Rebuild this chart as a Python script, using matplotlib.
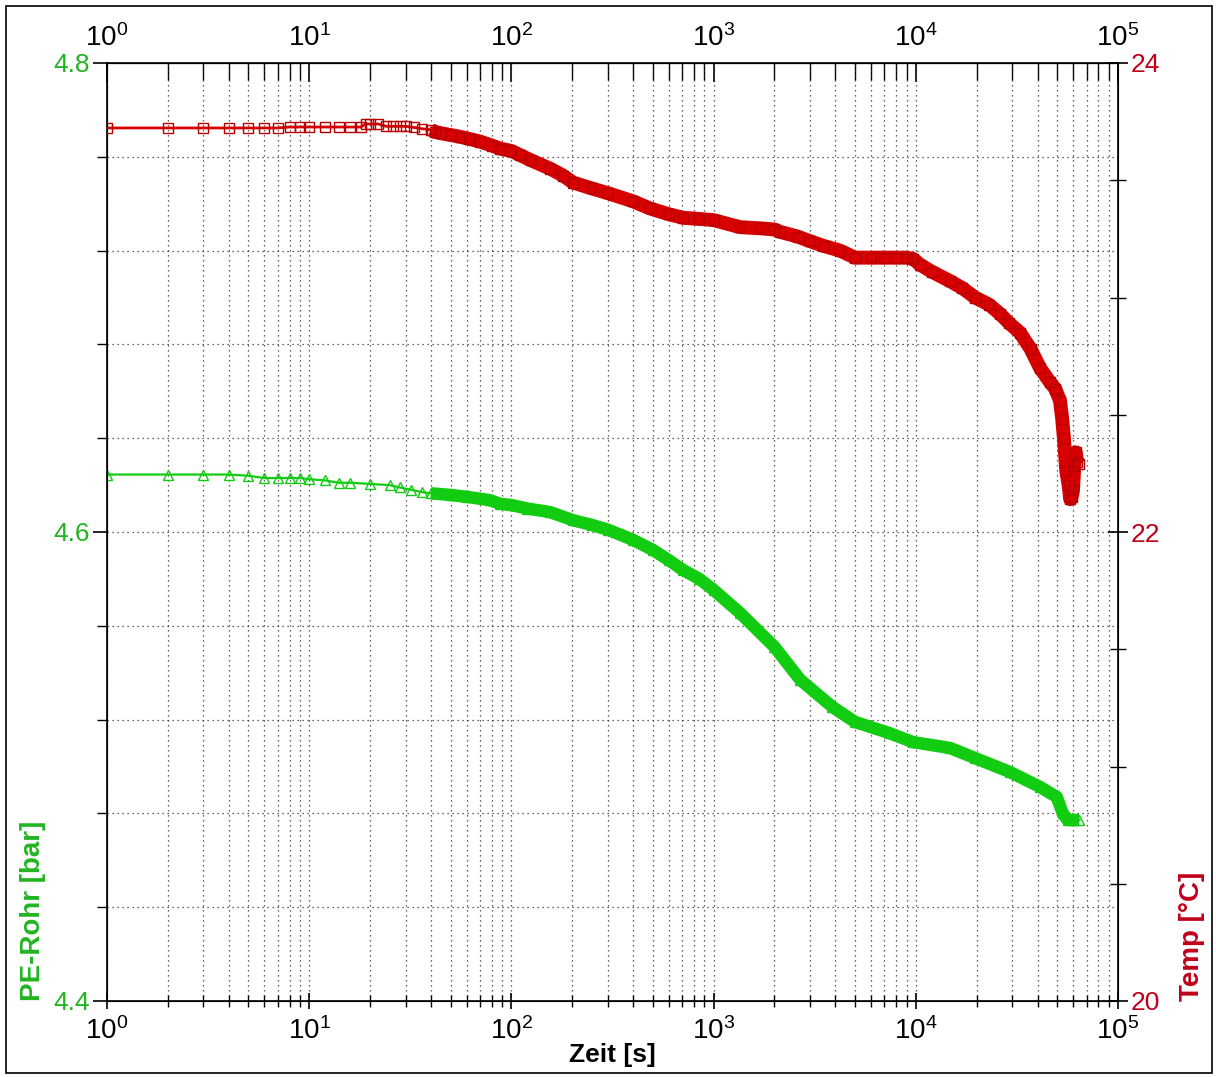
import numpy as np
import matplotlib
matplotlib.use("Agg")
import matplotlib.pyplot as plt
from matplotlib.ticker import FixedLocator, LogLocator, MultipleLocator, NullFormatter, LogFormatterMathtext
from matplotlib.patches import Rectangle

# Temperatur (rechte Achse)
temp_t = [1, 2, 3, 4, 5, 6, 7, 8, 9, 10, 12, 14, 16, 18, 19, 20, 22, 24, 26, 28,
          30, 33, 36, 40, 42, 45, 50, 56, 62, 70, 80, 88, 100, 110, 125, 155, 180,
          202, 250, 300, 400, 484, 600, 706, 850, 1000, 1350, 1700, 2000, 2130,
          2600, 3000, 3500, 4220, 5000, 6000, 7000, 8000, 9000, 9690, 10490, 12000,
          14760, 17000, 19630, 23000, 26100, 29000, 32750, 37000, 41100, 46000,
          49000, 51650, 53000, 54000, 55500, 57000, 58000, 59000, 59900, 60800,
          61800, 62800, 63800]
temp_val = [23.723, 23.723, 23.723, 23.723, 23.723, 23.723, 23.723, 23.727, 23.727,
            23.727, 23.727, 23.727, 23.727, 23.727, 23.74, 23.74, 23.74, 23.73, 23.73,
            23.73, 23.73, 23.725, 23.72, 23.715, 23.706, 23.70, 23.693, 23.685, 23.676,
            23.665, 23.648, 23.635, 23.625, 23.608, 23.585, 23.55, 23.52, 23.49, 23.465,
            23.445, 23.41, 23.38, 23.355, 23.34, 23.335, 23.33, 23.30, 23.295, 23.29,
            23.28, 23.26, 23.24, 23.22, 23.20, 23.17, 23.17, 23.17, 23.17, 23.17,
            23.165, 23.14, 23.11, 23.07, 23.04, 23.00, 22.97, 22.93, 22.89, 22.85,
            22.78, 22.70, 22.64, 22.61, 22.56, 22.48, 22.40, 22.26, 22.20, 22.14,
            22.15, 22.18, 22.28, 22.34, 22.30, 22.29]

# Druck PE-Rohr (linke Achse)
pe_t = [1, 2, 3, 4, 5, 6, 7, 8, 9, 10, 12, 14, 16, 20, 25, 28, 32, 36, 40, 50, 60,
        78, 88, 100, 120, 155, 202, 250, 300, 400, 502, 600, 705, 850, 1000, 1350,
        2000, 2680, 3870, 5000, 7370, 9690, 14760, 19630, 29100, 41100, 49800,
        53200, 56300, 60000, 64400]
pe_val = [4.6245, 4.6245, 4.6245, 4.6245, 4.624, 4.623, 4.623, 4.623, 4.623, 4.6225,
          4.622, 4.621, 4.621, 4.6205, 4.620, 4.619, 4.618, 4.617, 4.6165, 4.6158,
          4.615, 4.6136, 4.612, 4.6115, 4.610, 4.6085, 4.605, 4.603, 4.601, 4.5966,
          4.5923, 4.588, 4.5838, 4.580, 4.5753, 4.5655, 4.551, 4.537, 4.5254, 4.519,
          4.5143, 4.5104, 4.5079, 4.5036, 4.4977, 4.4913, 4.487, 4.4802, 4.4772,
          4.4772, 4.4772]

x_ticks = [1, 10, 100, 1000, 10000, 100000]

green = "#11cc11"
green_txt = "#22b422"
red = "#d80000"
red_txt = "#c0001a"

plt.rcParams["font.family"] = ["Liberation Sans", "DejaVu Sans"]
plt.rcParams["mathtext.fontset"] = "custom"
plt.rcParams["mathtext.rm"] = "Liberation Sans"
plt.rcParams["mathtext.it"] = "Liberation Sans:italic"
plt.rcParams["mathtext.bf"] = "Liberation Sans:bold"
plt.rcParams["mathtext.default"] = "regular"

fig = plt.figure(figsize=(12.16, 10.77), dpi=100)
ax = fig.add_axes([107 / 1216, 1 - 1001 / 1077, 1011 / 1216, 938 / 1077])
ax2 = ax.twinx()

ax.set_xscale("log")
ax.set_xlim(1, 1e5)
ax.set_ylim(4.4, 4.8)
ax2.set_ylim(20, 24)

ax.xaxis.set_major_locator(FixedLocator(x_ticks))
ax.xaxis.set_minor_locator(LogLocator(base=10, subs=np.arange(2, 10), numticks=20))
ax.xaxis.set_major_formatter(LogFormatterMathtext())
ax.xaxis.set_minor_formatter(NullFormatter())
ax.yaxis.set_major_locator(MultipleLocator(0.2))
ax.yaxis.set_minor_locator(MultipleLocator(0.04))
ax2.yaxis.set_major_locator(MultipleLocator(2))
ax2.yaxis.set_minor_locator(MultipleLocator(0.5))

ax.grid(True, which="both", axis="both", linestyle=(0, (1, 3)), color="#333333", linewidth=0.9)
ax.set_axisbelow(True)

# PE-Rohr
pe_t_arr = np.array(pe_t)
pe_arr = np.array(pe_val)
m = pe_t_arr >= 40
ax.plot(pe_t_arr[m], pe_arr[m], color=green, lw=9, solid_capstyle="butt", zorder=2)
ax.plot(pe_t, pe_val, color=green, lw=1.6, marker="^", markersize=6.5,
        markerfacecolor="none", markeredgecolor=green, zorder=3)

# Temperatur
temp_t_arr = np.array(temp_t)
temp_arr = np.array(temp_val)
m2 = temp_t_arr >= 40
ax2.plot(temp_t_arr[m2], temp_arr[m2], color=red, lw=10, solid_capstyle="butt", zorder=2)
ax2.plot(temp_t, temp_val, color=red, lw=2, marker="s", markersize=6.5,
         markerfacecolor="none", markeredgecolor="#b80000", zorder=3)

# Achsen-Beschriftung
ax.tick_params(axis="x", which="major", direction="inout", length=12, width=1.2, labelsize=20, pad=6)
ax.tick_params(axis="x", which="minor", direction="inout", length=8, width=1)
ax.tick_params(axis="y", which="major", direction="out", length=10, width=1.2,
               labelsize=19, labelcolor=green_txt, pad=2)
ax.tick_params(axis="y", which="minor", direction="out", length=7, width=1)
ax2.tick_params(axis="y", which="major", direction="inout", length=14, width=1.2,
                labelsize=19, labelcolor=red_txt, pad=2)
ax2.tick_params(axis="y", which="minor", direction="inout", length=12, width=1)

top = ax.secondary_xaxis("top")
top.xaxis.set_major_locator(FixedLocator(x_ticks))
top.xaxis.set_minor_locator(LogLocator(base=10, subs=np.arange(2, 10), numticks=20))
top.xaxis.set_major_formatter(LogFormatterMathtext())
top.xaxis.set_minor_formatter(NullFormatter())
top.tick_params(axis="x", which="major", direction="in", length=14, width=1.2, labelsize=20, pad=8)
top.tick_params(axis="x", which="minor", direction="in", length=12, width=1)

ax.set_xlabel("Zeit [s]", fontsize=19, fontweight="bold", labelpad=-2)
ax.set_ylabel("PE-Rohr [bar]", fontsize=20, fontweight="bold", color=green_txt,
              loc="bottom", labelpad=6)
ax2.set_ylabel("Temp [°C]", fontsize=20, fontweight="bold", color=red_txt,
               loc="bottom", labelpad=14)

for sp in ax.spines.values():
    sp.set_linewidth(1.2)

fig.patches.append(Rectangle((6 / 1216, 4 / 1077), 1206 / 1216, 1067 / 1077,
                             transform=fig.transFigure, fill=False,
                             edgecolor="black", linewidth=1.2))

fig.savefig("out.png", dpi=100)
